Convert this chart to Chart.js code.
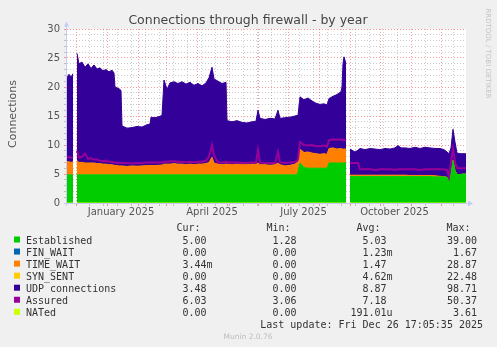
<!DOCTYPE html>
<html>
<head>
<meta charset="utf-8">
<script src="https://cdn.jsdelivr.net/npm/chart.js@4.4.1/dist/chart.umd.min.js"></script>
<style>
  html, body { margin: 0; padding: 0; background: #f0f0f0; }
  canvas { display: block; }
</style>
</head>
<body>
<canvas id="fwChart" width="497" height="347"></canvas>
<script>
// days since 22 Nov 2024 (one pixel per day, 400 days)
const days = [0,2,4,6,8,10,12,15,18,21,
  24,27,30,33,36,39,42,45,47,48,
  52,54,55,60,65,70,75,80,83,84,
  88,92,95,97,100,103,107,111,115,119,
  123,127,131,135,139,142,145,147,151,155,
  159,160,165,170,175,180,185,189,191,193,
  198,203,208,211,213,218,223,228,230,231,
  233,237,241,245,249,253,257,260,262,266,
  270,274,275,276,277,279,281,283,288,291,
  293,298,303,308,313,318,323,328,331,334,
  338,343,348,353,358,363,368,373,377,380,
  382,384,386,388,390,393,396,399];

const established = [4.85,4.85,4.85,4.85,null,4.85,4.85,4.85,4.85,4.85,
  4.85,4.85,4.85,4.85,4.85,4.85,4.85,4.85,4.85,4.85,
  4.85,4.85,4.85,4.85,4.85,4.85,4.85,4.85,4.85,4.85,
  4.85,4.85,4.85,4.85,4.85,4.85,4.85,4.85,4.85,4.85,
  4.85,4.85,4.85,4.85,4.85,4.85,4.85,4.85,4.85,4.85,
  4.85,4.85,4.85,4.85,4.85,4.85,4.85,4.85,4.85,4.85,
  4.85,4.85,4.85,4.85,4.85,4.85,4.85,4.85,4.85,5.4,
  6.9,6.1,6.0,6.0,6.0,6.0,6.0,6.0,6.9,6.9,
  6.9,6.9,6.9,6.9,6.9,6.9,null,4.55,4.55,4.55,
  4.55,4.55,4.55,4.55,4.55,4.55,4.55,4.55,4.55,4.55,
  4.55,4.55,4.55,4.55,4.55,4.55,4.5,4.5,4.5,4.4,
  3.8,5.0,7.3,5.5,4.9,4.9,5.0,5.0];

const finWait = [0,0,0,0,null,0,0,0,0,0, 0,0,0,0,0,0,0,0,0,0,
  0,0,0,0,0,0,0,0,0,0, 0,0,0,0,0,0,0,0,0,0,
  0,0,0,0,0,0,0,0,0,0, 0,0,0,0,0,0,0,0,0,0,
  0,0,0,0,0,0,0,0,0,0, 0,0,0,0,0,0,0,0,0,0,
  0,0,0,0,0,0,null,0,0,0, 0,0,0,0,0,0,0,0,0,0,
  0,0,0,0,0,0,0,0,0,0, 0,0,0,0,0,0,0,0];

const timeWait = [2.25,2.25,2.15,2.25,null,2.45,2.15,2.15,2.05,2.05,
  2.05,2.05,1.95,1.95,1.85,1.85,1.75,1.75,1.65,1.65,
  1.55,1.55,1.55,1.45,1.55,1.5,1.55,1.6,1.6,1.6,
  1.6,1.65,1.7,1.85,1.85,1.85,1.95,1.85,1.85,1.75,
  1.85,1.75,1.85,1.85,1.95,2.15,3.05,2.05,1.85,1.75,
  1.85,1.85,1.75,1.85,1.75,1.75,1.85,1.85,2.05,1.75,
  1.75,1.65,1.75,2.05,1.75,1.55,1.65,1.85,2.15,1.8,
  2.4,2.6,2.8,2.6,2.5,2.4,2.5,2.4,2.5,2.6,
  2.4,2.5,2.4,2.4,2.4,2.4,null,0.25,0.25,0.25,
  0.25,0.25,0.25,0.25,0.25,0.25,0.25,0.25,0.25,0.25,
  0.25,0.2,0.2,0.2,0.2,0.2,0.2,0.1,0.05,0.05,
  0.05,0.1,0.1,0.1,0.05,0,0,0];

const synSent = [0,0,0,0,null,0,0,0,0,0, 0,0,0,0,0,0,0,0,0,0,
  0,0,0,0,0,0,0,0,0,0, 0,0,0,0,0,0,0,0,0,0,
  0,0,0,0,0,0,0,0,0,0, 0,0,0,0,0,0,0,0,0,0,
  0,0,0,0,0,0,0,0,0,0, 0,0,0,0,0,0,0,0,0,0,
  0,0,0,0,0,0,null,0,0,0, 0,0,0,0,0,0,0,0,0,0,
  0,0,0,0,0,0,0,0,0,0, 0,0,0,0,0,0,0,0];

const udpConnections = [14.5,15.1,14.7,15.2,null,18.5,17.0,17.3,16.5,17.1,
  16.3,16.9,16.3,16.5,16.1,16.3,16.0,16.3,15.9,13.5,
  13.3,13.0,6.9,6.6,6.6,6.85,6.7,7.05,7.15,8.35,
  8.25,8.4,8.55,14.5,12.9,14.0,14.1,13.9,14.2,13.9,
  14.1,13.7,13.9,13.5,13.9,14.6,15.5,14.5,14.3,14.0,
  14.1,7.5,7.4,7.5,7.3,7.2,7.3,7.4,9.1,8.0,
  7.8,8.1,7.9,9.1,8.0,8.3,8.3,8.3,8.1,7.9,
  9.0,9.1,9.3,9.0,8.7,8.6,8.6,8.5,8.6,8.9,
  9.4,9.8,10.7,14.7,15.9,14.7,null,4.5,4.0,4.3,
  4.6,4.4,4.6,4.5,4.4,4.6,4.5,4.7,5.1,4.7,
  4.7,4.65,4.85,4.65,4.85,4.75,4.7,4.8,4.65,4.35,
  4.65,4.4,5.3,4.9,3.65,3.6,3.5,3.48];

const assured = [7.9,7.9,7.8,7.9,null,9.0,7.8,8.0,8.5,7.6,
  7.7,7.5,7.5,7.3,7.2,7.3,7.1,7.1,7.0,7.0,
  6.9,6.9,6.9,6.9,6.8,6.9,6.9,7.0,7.0,7.0,
  7.0,7.0,7.0,7.1,7.1,7.2,7.2,7.1,7.1,7.0,
  7.1,7.0,7.1,7.1,7.3,8.0,10.0,8.2,7.0,7.0,
  7.1,7.0,7.0,7.0,6.9,6.9,7.0,7.0,9.2,7.0,
  6.9,6.9,6.9,8.8,7.0,6.9,7.0,7.1,7.2,7.6,
  10.5,10.0,9.9,10.0,9.8,9.8,9.9,9.7,10.8,11.0,
  10.9,11.0,10.8,10.8,10.9,10.8,null,6.9,6.9,6.9,
  5.8,5.8,5.8,5.7,5.8,5.8,5.8,5.7,5.8,5.8,
  5.8,5.8,5.8,5.7,5.8,5.8,5.8,5.8,5.8,5.7,
  4.5,7.0,9.3,7.0,6.0,6.0,6.0,6.03];

const nated = [0,0,0,0,null,0,0,0,0,0, 0,0,0,0,0,0,0,0,0,0,
  0,0,0,0,0,0,0,0,0,0, 0,0,0,0,0,0,0,0,0,0,
  0,0,0,0,0,0,0,0,0,0, 0,0,0,0,0,0,0,0,0,0,
  0,0,0,0,0,0,0,0,0,0, 0,0,0,0,0,0,0,0,0,0,
  0,0,0,0,0,0,null,0,0,0, 0,0,0,0,0,0,0,0,0,0,
  0,0,0,0,0,0,0,0,0,0, 0,0,0,0,0,0,0,0];

const seriesNames = ['Established', 'FIN_WAIT', 'TIME_WAIT', 'SYN_SENT', 'UDP connections', 'Assured', 'NATed'];
const seriesColors = ['#00cc00', '#0066b3', '#ff8000', '#ffcc00', '#330099', '#990099', '#ccff00'];
const curValues = ['5.00', '0.00', '3.44m', '0.00', '3.48', '6.03', '0.00'];
const minValues = ['1.28', '0.00', '0.00', '0.00', '0.00', '3.06', '0.00'];
const avgValues = ['5.03', '1.23m', '1.47', '4.62m', '8.87', '7.18', '191.01u'];
const maxValues = ['39.00', '1.67', '28.87', '22.48', '98.71', '50.37', '3.61'];

// x axis: month starts (major grid), minor grid, and label positions
const monthStarts = [9, 40, 71, 99, 130, 160, 191, 221, 252, 283, 313, 344, 374];
const minorTicks = [22, 36, 50, 64, 78, 92, 106, 120, 134, 148, 162, 176, 190, 204, 218, 232, 246, 260, 274, 288, 302, 316, 330, 358, 386];
const labelTicks = [54, 145, 236.5, 327.5];
const labelTexts = ['January 2025', 'April 2025', 'July 2025', 'October 2025'];

const MAJOR = 'rgba(255, 0, 0, 0.4)';
const MINOR = 'rgba(0, 0, 0, 0.2)';
const AXIS = '#c4cbf4';

function pts(arr) {
  return days.map((d, i) => ({ x: d, y: arr[i] }));
}

function splitNum(s) {
  const m = s.match(/^([\d.]+)(.*)$/);
  return [m[1], m[2]];
}

// rrdtool look: background, axes with arrows, title, legend table
const muninPlugin = {
  id: 'munin',
  beforeDraw(chart) {
    const { ctx, chartArea: a } = chart;
    ctx.save();
    ctx.fillStyle = '#f0f0f0';
    ctx.fillRect(0, 0, chart.width, chart.height);
    ctx.fillStyle = '#ffffff';
    ctx.fillRect(a.left, a.top, a.right - a.left, a.bottom - a.top);
    ctx.restore();
  },
  afterDraw(chart) {
    const { ctx, chartArea: a } = chart;
    ctx.save();

    // axes
    ctx.strokeStyle = AXIS;
    ctx.lineWidth = 1;
    ctx.beginPath();
    ctx.moveTo(a.left - 0.5, a.bottom + 3);
    ctx.lineTo(a.left - 0.5, a.top - 3);
    ctx.moveTo(a.left - 3, a.bottom + 0.5);
    ctx.lineTo(a.right + 2, a.bottom + 0.5);
    ctx.stroke();
    ctx.fillStyle = AXIS;
    ctx.beginPath();
    ctx.moveTo(a.left - 3, a.top - 2.5);
    ctx.lineTo(a.left + 2, a.top - 2.5);
    ctx.lineTo(a.left - 0.5, a.top - 7.5);
    ctx.closePath();
    ctx.fill();
    ctx.beginPath();
    ctx.moveTo(a.right + 2, a.bottom - 2.5);
    ctx.lineTo(a.right + 2, a.bottom + 3.5);
    ctx.lineTo(a.right + 7, a.bottom + 0.5);
    ctx.closePath();
    ctx.fill();

    // title
    ctx.fillStyle = '#444';
    ctx.font = '12.5px "DejaVu Sans"';
    ctx.textAlign = 'center';
    ctx.textBaseline = 'alphabetic';
    ctx.fillText('Connections through firewall - by year', 248, 24);

    // vertical axis label
    ctx.save();
    ctx.translate(15.5, 114);
    ctx.rotate(-Math.PI / 2);
    ctx.font = '11px "DejaVu Sans"';
    ctx.fillStyle = '#555';
    ctx.fillText('Connections', 0, 0);
    ctx.restore();

    // rrdtool credit
    ctx.save();
    ctx.translate(485.5, 53.5);
    ctx.rotate(Math.PI / 2);
    ctx.font = '7px "DejaVu Sans"';
    ctx.fillStyle = '#c4c4c4';
    ctx.fillText('RRDTOOL / TOBI OETIKER', 0, 0);
    ctx.restore();

    // legend table
    ctx.font = '10px "DejaVu Sans Mono"';
    ctx.fillStyle = '#333';
    ctx.textAlign = 'left';
    const headers = ['Cur:', 'Min:', 'Avg:', 'Max:'];
    const headX = [176.5, 266.5, 356.5, 446.5];
    const colEnd = [206.5, 296.5, 386.5, 477];
    headers.forEach((h, i) => ctx.fillText(h, headX[i], 231));
    const cols = [curValues, minValues, avgValues, maxValues];
    seriesNames.forEach((name, r) => {
      const y = 243.5 + r * 12.05;
      ctx.fillStyle = seriesColors[r];
      ctx.fillRect(14, y - 7, 6, 6);
      ctx.fillStyle = '#333';
      ctx.textAlign = 'left';
      ctx.fillText(name, 26, y);
      cols.forEach((col, c) => {
        const [num, unit] = splitNum(col[r]);
        ctx.textAlign = 'right';
        ctx.fillText(num, colEnd[c], y);
        if (unit) {
          ctx.textAlign = 'left';
          ctx.fillText(unit, colEnd[c], y);
        }
      });
    });
    ctx.textAlign = 'right';
    ctx.fillText('Last update: Fri Dec 26 17:05:35 2025', 483, 327.5);

    ctx.font = '7.5px "DejaVu Sans"';
    ctx.fillStyle = '#bdbdbd';
    ctx.textAlign = 'center';
    ctx.fillText('Munin 2.0.76', 248, 338.5);
    ctx.restore();
  },
};

const common = { pointRadius: 0, borderWidth: 1, tension: 0, spanGaps: false };

const chart = new Chart(document.getElementById('fwChart'), {
  type: 'line',
  data: {
    datasets: [
      { ...common, label: seriesNames[0], data: pts(established), borderColor: seriesColors[0], backgroundColor: seriesColors[0], fill: 'origin', stack: 's' },
      { ...common, label: seriesNames[1], data: pts(finWait), borderColor: seriesColors[1], backgroundColor: seriesColors[1], borderWidth: 0, fill: '-1', stack: 's' },
      { ...common, label: seriesNames[2], data: pts(timeWait), borderColor: seriesColors[2], backgroundColor: seriesColors[2], fill: '-1', stack: 's' },
      { ...common, label: seriesNames[3], data: pts(synSent), borderColor: seriesColors[3], backgroundColor: seriesColors[3], borderWidth: 0, fill: '-1', stack: 's' },
      { ...common, label: seriesNames[4], data: pts(udpConnections), borderColor: seriesColors[4], backgroundColor: seriesColors[4], fill: '-1', stack: 's' },
      { ...common, label: seriesNames[5], data: pts(assured), borderColor: seriesColors[5], borderWidth: 2, fill: false, stack: 'a', order: -1 },
      { ...common, label: seriesNames[6], data: pts(nated), borderColor: seriesColors[6], fill: false, stack: 'n', order: -2 },
    ],
  },
  options: {
    responsive: false,
    animation: false,
    layout: { padding: { left: 0, top: 29, right: 31, bottom: 124 } },
    plugins: { legend: { display: false }, tooltip: { enabled: false }, title: { display: false } },
    scales: {
      x: {
        type: 'linear',
        min: 0,
        max: 399,
        bounds: 'data',
        z: 1,
        afterFit: (s) => { s.height = 20; },
        afterBuildTicks: (s) => {
          s.ticks = [...monthStarts, ...minorTicks, ...labelTicks].sort((p, q) => p - q).map((v) => ({ value: v }));
        },
        grid: {
          tickLength: 3,
          color: (c) => {
            const v = c.tick && c.tick.value;
            if (monthStarts.includes(v)) return MAJOR;
            if (labelTicks.includes(v)) return 'rgba(0,0,0,0)';
            return MINOR;
          },
        },
        border: { display: false, dash: [1, 2] },
        ticks: {
          autoSkip: false,
          maxRotation: 0,
          padding: 0,
          color: '#555',
          font: { family: 'DejaVu Sans', size: 10 },
          callback: (v) => {
            const i = labelTicks.indexOf(v);
            return i >= 0 ? labelTexts[i] : '';
          },
        },
      },
      y: {
        stacked: true,
        min: 0,
        max: 30,
        z: 1,
        afterFit: (s) => { s.width = 67; },
        grid: {
          tickLength: 3,
          color: (c) => (c.tick && c.tick.value % 5 === 0 ? MAJOR : MINOR),
        },
        border: { display: false, dash: [1, 2] },
        ticks: {
          stepSize: 1,
          autoSkip: false,
          padding: 4,
          color: '#555',
          font: { family: 'DejaVu Sans', size: 10 },
          callback: (v) => (v % 5 === 0 ? v : ''),
        },
      },
    },
  },
  plugins: [muninPlugin],
});
</script>
</body>
</html>
